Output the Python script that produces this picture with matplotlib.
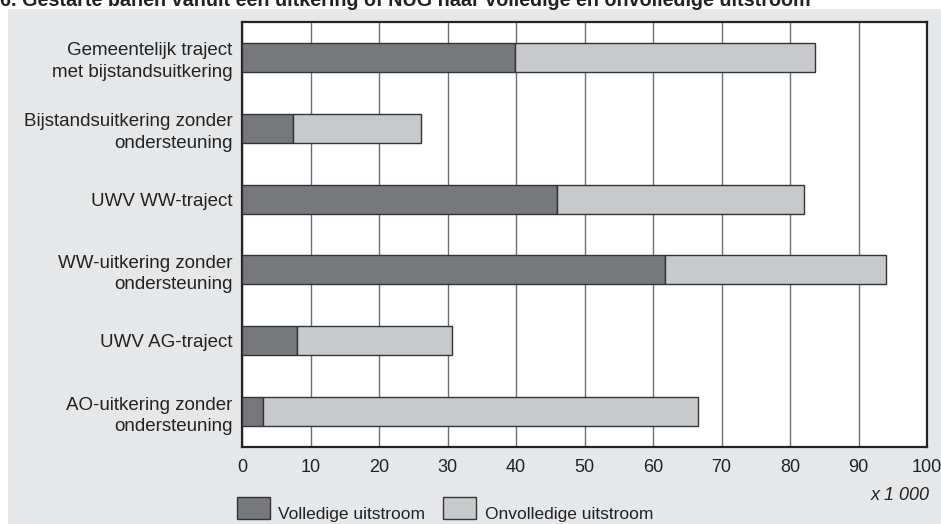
import matplotlib.pyplot as plt
from matplotlib.patches import Rectangle

plt.rcParams['font.family'] = ['Liberation Sans', 'DejaVu Sans']

categories = [
    "Gemeentelijk traject\nmet bijstandsuitkering",
    "Bijstandsuitkering zonder\nondersteuning",
    "UWV WW-traject",
    "WW-uitkering zonder\nondersteuning",
    "UWV AG-traject",
    "AO-uitkering zonder\nondersteuning",
]
# x 1 000
volledig = [39.8, 7.4, 46.0, 61.8, 8.1, 3.1]
totaal = [83.6, 26.1, 82.0, 94.0, 30.7, 66.5]
onvolledig = [t - v for t, v in zip(totaal, volledig)]
xticks = list(range(0, 101, 10))

dark = '#77787b'
light = '#c8c9cb'
bg = '#e6e7e8'
edge = '#333333'
fs = 13.5

fig = plt.figure(figsize=(9.41, 5.24), dpi=100)
fig.patch.set_facecolor('white')

# grey panel behind the chart
fig.patches.append(Rectangle((8 / 941, 0), 1 - 8 / 941, 1 - 9 / 524,
                             transform=fig.transFigure, facecolor=bg,
                             edgecolor='none', zorder=-10))

# title sits half outside the top edge, as in the source
fig.text(0.0, 1.0, "6. Gestarte banen vanuit een uitkering of NUG naar volledige en onvolledige uitstroom",
         fontsize=14.2, fontweight='bold', va='center', ha='left', color='#222222')

ax = fig.add_axes([242 / 941, 1 - 447 / 524, (927 - 242) / 941, (447 - 22) / 524])
ax.set_facecolor('white')

y = list(range(len(categories)))
ax.barh(y, volledig, height=0.41, color=dark, edgecolor=edge, linewidth=1, zorder=3)
ax.barh(y, onvolledig, left=volledig, height=0.41, color=light, edgecolor=edge,
        linewidth=1, zorder=3)

ax.set_xlim(0, 100)
ax.set_ylim(5.5, -0.5)
ax.set_xticks(xticks)
ax.set_xticklabels([str(t) for t in xticks], fontsize=13, color='#222222')
ax.set_yticks(y)
ax.set_yticklabels(categories, fontsize=fs, color='#222222', linespacing=1.35)
ax.tick_params(length=0, pad=9)
ax.tick_params(axis='y', pad=7)
ax.grid(axis='x', color='#6d6e70', linewidth=1, zorder=1)
for s in ax.spines.values():
    s.set_linewidth(1.6)
    s.set_color('#222222')

fig.text(930 / 941, 1 - 496 / 524, "x 1 000", fontsize=13, style='italic',
         ha='right', va='center', color='#222222')

# legend
fig.patches.append(Rectangle((237 / 941, 1 - 519 / 524), 33 / 941, 22 / 524,
                             transform=fig.transFigure, facecolor=dark,
                             edgecolor=edge, linewidth=1))
fig.text(278 / 941, 1 - 515 / 524, "Volledige uitstroom", fontsize=12.5,
         ha='left', va='center', color='#222222')
fig.patches.append(Rectangle((443 / 941, 1 - 519 / 524), 33 / 941, 22 / 524,
                             transform=fig.transFigure, facecolor=light,
                             edgecolor=edge, linewidth=1))
fig.text(485 / 941, 1 - 515 / 524, "Onvolledige uitstroom", fontsize=12.5,
         ha='left', va='center', color='#222222')

fig.savefig('out.png', dpi=100)
